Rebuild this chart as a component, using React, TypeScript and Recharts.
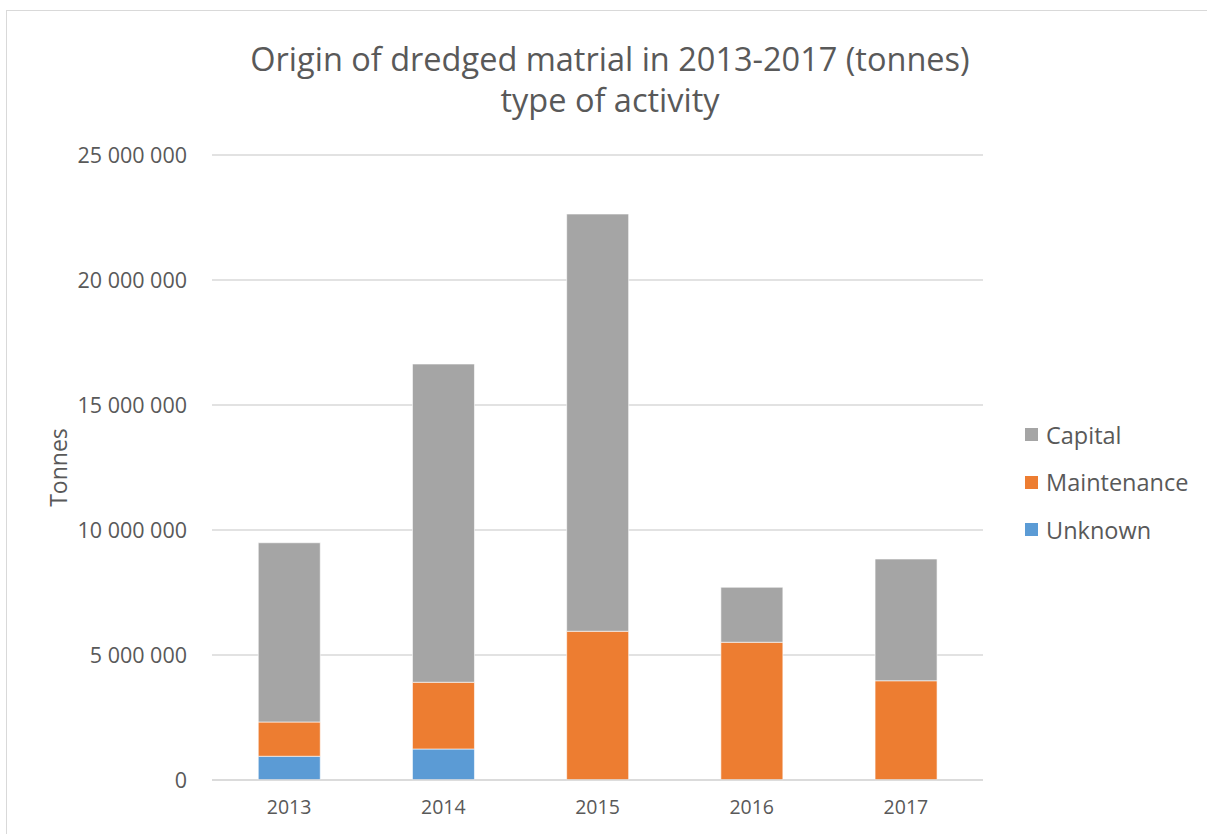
import React from 'react';
import { BarChart, Bar, XAxis, YAxis, CartesianGrid } from 'recharts';

const years = ['2013', '2014', '2015', '2016', '2017'];
const unknown = [950000, 1240000, 0, 0, 0];
const maintenance = [1370000, 2670000, 5950000, 5510000, 3970000];
const capital = [7170000, 12730000, 16690000, 2200000, 4870000];
const yTicks = [0, 5000000, 10000000, 15000000, 20000000, 25000000];

// stacking order bottom -> top
const series = [
  { key: 'unknown', name: 'Unknown', color: '#5b9bd5' },
  { key: 'maintenance', name: 'Maintenance', color: '#ed7d31' },
  { key: 'capital', name: 'Capital', color: '#a5a5a5' },
];

const data = years.map((year, i) => ({
  year,
  unknown: unknown[i],
  maintenance: maintenance[i],
  capital: capital[i],
}));

const textColor = '#595959';
const gridColor = '#d9d9d9';
const font = "'Open Sans', 'Noto Sans', sans-serif";

// thousands separated with spaces, e.g. 25 000 000
const formatTonnes = (v: number) => String(v).replace(/\B(?=(\d{3})+(?!\d))/g, ' ');

const YLabel = ({ viewBox }: any) => {
  const x = viewBox.x + 58;
  const y = viewBox.y + viewBox.height / 2;
  return (
    <text
      x={x}
      y={y}
      transform={`rotate(-90, ${x}, ${y})`}
      textAnchor="middle"
      dominantBaseline="central"
      fill={textColor}
      fontFamily={font}
      fontSize={23}
    >
      Tonnes
    </text>
  );
};

const App: React.FC = () => {
  return (
    <div style={{ position: 'absolute', left: 0, top: 0, width: 1207, height: 834, background: '#fff', overflow: 'hidden' }}>
      <div
        style={{
          position: 'absolute',
          left: 6,
          top: 10,
          width: 1220,
          height: 840,
          borderTop: `1px solid ${gridColor}`,
          borderLeft: `1px solid ${gridColor}`,
        }}
      />
      <div
        style={{
          position: 'absolute',
          left: 0,
          top: 38,
          width: 1220,
          textAlign: 'center',
          fontFamily: font,
          fontSize: 32.5,
          lineHeight: '41px',
          color: textColor,
        }}
      >
        <div>Origin of dredged matrial in 2013-2017 (tonnes)</div>
        <div>type of activity</div>
      </div>
      <BarChart
        width={1207}
        height={834}
        data={data}
        margin={{ top: 155, right: 224, bottom: 0, left: 0 }}
        barCategoryGap="30%"
        style={{ position: 'absolute', left: 0, top: 0 }}
      >
        <CartesianGrid vertical={false} stroke={gridColor} strokeWidth={1.5} />
        <XAxis
          dataKey="year"
          height={54}
          tickLine={false}
          axisLine={{ stroke: gridColor, strokeWidth: 1.5 }}
          tickMargin={14}
          tick={{ fill: textColor, fontSize: 19.5, fontFamily: font }}
        />
        <YAxis
          width={212}
          domain={[0, 25000000]}
          ticks={yTicks}
          interval={0}
          tickLine={false}
          axisLine={false}
          tickMargin={19}
          tickFormatter={formatTonnes}
          tick={{ fill: textColor, fontSize: 21.5, fontFamily: font }}
          label={<YLabel />}
        />
        {series.map((s) => (
          <Bar
            key={s.key}
            dataKey={s.key}
            name={s.name}
            stackId="a"
            fill={s.color}
            stroke="#fff"
            strokeWidth={0.6}
            isAnimationActive={false}
          />
        ))}
      </BarChart>
      <div style={{ position: 'absolute', left: 1025, top: 411 }}>
        {[...series].reverse().map((s) => (
          <div key={s.key} style={{ display: 'flex', alignItems: 'center', height: 47.5 }}>
            <span style={{ width: 13, height: 13, background: s.color, marginRight: 8 }} />
            <span style={{ fontFamily: font, fontSize: 23.5, color: textColor }}>{s.name}</span>
          </div>
        ))}
      </div>
    </div>
  );
};

export default App;
